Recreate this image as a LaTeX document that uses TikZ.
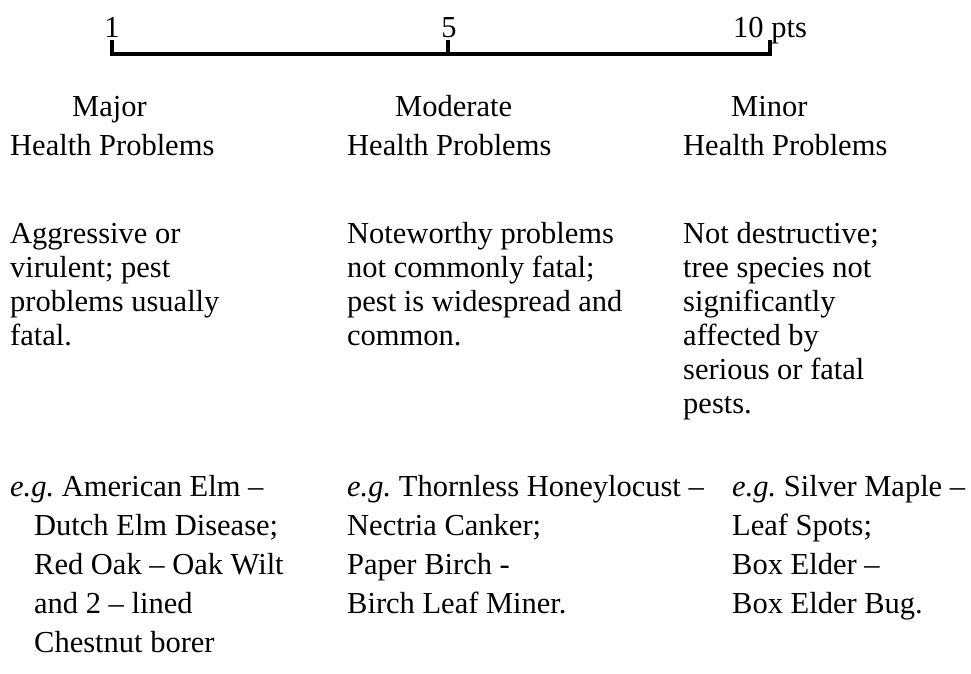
\documentclass[tikz,border=0pt]{standalone}
\usepackage{fontspec}
\setmainfont{Liberation Serif}
\usetikzlibrary{positioning}
\definecolor{pestink}{HTML}{000000}
\newcommand{\eg}{\textit{e.g.}\ }
\tikzset{
  scalebar/.style={
    line width=4.5pt,
    draw=pestink
  },
  ticklabel/.style={
    anchor=base,
    inner sep=0pt,
    text=pestink,
    font=\fontsize{30.5}{34}\selectfont
  },
  headtext/.style={
    anchor=base west,
    inner sep=0pt,
    align=left,
    text=pestink,
    font=\fontsize{30.5}{39}\selectfont
  },
  bodytext/.style={
    anchor=base west,
    inner sep=0pt,
    align=left,
    text=pestink,
    font=\fontsize{30.5}{34}\selectfont
  },
  exampletext/.style={
    anchor=base west,
    inner sep=0pt,
    align=left,
    text=pestink,
    font=\fontsize{30.5}{39}\selectfont
  }
}

\begin{document}
\begin{tikzpicture}[x=1pt,y=-1pt]
\useasboundingbox (0,0) rectangle (971,673);

% scale 1 to 10
\coordinate (low) at (112,54);
\coordinate (mid) at (448,54);
\coordinate (high) at (770,54);
\draw[scalebar] ([yshift=14pt]low) -- (low) -- (high) -- ([yshift=14pt]high);
\draw[scalebar] (mid) -- ([yshift=14pt]mid);
\node[ticklabel] (lowlabel) at (112,37) {1};
\node[ticklabel] (midlabel) at (449,37) {5};
\node[ticklabel, anchor=base west] (highlabel) at (733,37) {10 pts};

% class headings (base = last line)
\node[headtext] (major) at (10,155)
  {\hspace*{62pt}Major\\Health Problems};
\node[headtext] (moderate) at (347,155)
  {\hspace*{48pt}Moderate\\Health Problems};
\node[headtext] (minor) at (683,155)
  {\hspace*{48pt}Minor\\Health Problems};

% what the class means
\node[bodytext] (majordesc) at (10,345)
  {Aggressive or\\virulent; pest\\problems usually\\fatal.};
\node[bodytext] (moderatedesc) at (347,345)
  {Noteworthy problems\\not commonly fatal;\\pest is widespread and\\common.};
\node[bodytext] (minordesc) at (683,413)
  {Not destructive;\\tree species not\\significantly\\affected by\\serious or fatal\\pests.};

% examples
\node[exampletext] (majorex) at (10,652)
  {\eg American Elm --\\
   \hspace*{24pt}Dutch Elm Disease;\\
   \hspace*{24pt}Red Oak -- Oak Wilt\\
   \hspace*{24pt}and 2 -- lined\\
   \hspace*{24pt}Chestnut borer};
\node[exampletext] (moderateex) at (347,613)
  {\eg Thornless Honeylocust --\\
   Nectria Canker;\\
   Paper Birch -\\
   Birch Leaf Miner.};
\node[exampletext] (minorex) at (732,613)
  {\eg Silver Maple --\\
   Leaf Spots;\\
   Box Elder --\\
   Box Elder Bug.};
\end{tikzpicture}
\end{document}
